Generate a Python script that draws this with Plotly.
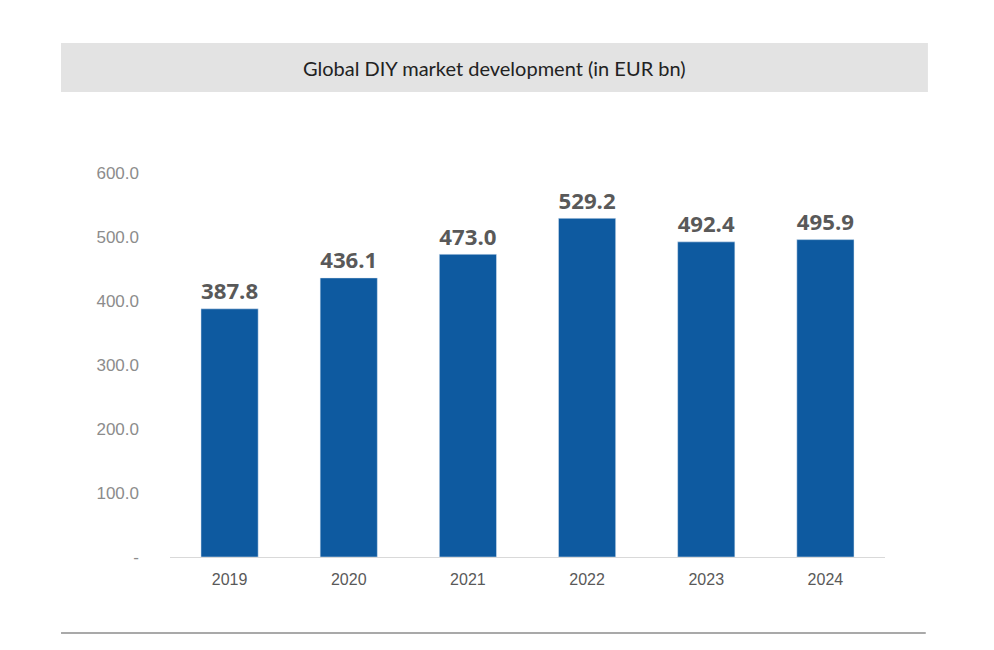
import plotly.graph_objects as go

years = ["2019", "2020", "2021", "2022", "2023", "2024"]
values = [387.8, 436.1, 473.0, 529.2, 492.4, 495.9]
tick_vals = [0, 100, 200, 300, 400, 500, 600]
tick_text = ["-", "100.0", "200.0", "300.0", "400.0", "500.0", "600.0"]

fig = go.Figure()
fig.add_bar(x=years, y=values, marker_color="#0E5AA0",
            text=[f"<b>{v:.1f}</b>" for v in values], textposition="outside",
            textfont=dict(family="Open Sans", size=24, color="#595959"),
            cliponaxis=False)

fig.update_layout(
    width=994, height=650, showlegend=False,
    plot_bgcolor="white", paper_bgcolor="white",
    margin=dict(l=162, r=117, t=165, b=101),
    bargap=0.52,
    font=dict(family="Liberation Sans", color="#7f7f7f"),
    xaxis=dict(showline=True, linecolor="#d9d9d9", tickfont=dict(size=16, color="#595959"),
               ticks="", showgrid=False, ticklabelstandoff=8),
    yaxis=dict(range=[0, 600], tickvals=tick_vals, ticktext=tick_text, showgrid=False,
               zeroline=False, tickfont=dict(size=17, color="#8c8c8c"), ticklabelstandoff=30),
)

# grey title band
fig.add_shape(type="rect", xref="paper", yref="paper", x0=-0.1524, x1=1.060,
              y0=1.2109, y1=1.3385, fillcolor="#e3e3e3", line_width=0, layer="below")
fig.add_annotation(text="Global DIY market development (in EUR bn)", xref="paper", yref="paper",
                   x=0.4535, y=1.2747, yanchor="middle", showarrow=False,
                   font=dict(family="Lato", size=20, color="#222222"))
# bottom rule
fig.add_shape(type="line", xref="paper", yref="paper", x0=-0.1524, x1=1.057,
              y0=-0.198, y1=-0.198, line=dict(color="#8c8c8c", width=1.5))

fig.write_html("out.html")
